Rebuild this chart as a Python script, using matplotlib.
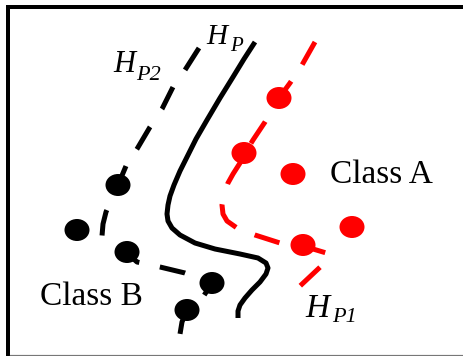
import matplotlib
matplotlib.use("Agg")
import matplotlib.pyplot as plt
from matplotlib.patches import Ellipse

plt.rcParams['lines.scale_dashes'] = False

# ---- data (image-pixel coordinates, y downward) ----
hp_x = [255, 244, 233, 220, 207, 196, 187, 180, 174, 170, 168, 167, 168, 172, 180, 195, 215, 240, 258, 266, 268, 266, 260, 252, 245, 240, 238, 238]
hp_y = [42, 59, 77, 98, 120, 139, 157, 171, 185, 196, 205, 214, 221, 228, 235, 243, 249, 254, 258, 263, 268, 274, 282, 290, 298, 305, 311, 318]

hp2_x = [199, 185, 173, 162, 150, 137, 126, 118, 111, 106, 103, 102, 105, 114, 127, 137, 160, 185, 212, 203, 187, 182, 180]
hp2_y = [48, 70, 87, 109, 127, 149, 166, 185, 200, 212, 224, 236, 244, 250, 253, 262, 267, 273, 283, 297, 310, 322, 334]

hp1_x = [315, 302, 290, 279, 265, 253, 245, 240, 233, 228, 224, 222, 223, 227, 237, 255, 280, 303, 333, 300]
hp1_y = [42, 65, 83, 98, 122, 140, 153, 163, 174, 183, 194, 205, 214, 221, 228, 235, 243, 246, 255, 286]

classA_x = [279, 244, 293, 352, 303]
classA_y = [98, 153, 174, 227, 245]
classB_x = [118, 77, 127, 212, 187]
classB_y = [185, 230, 252, 283, 310]

W, H = 463, 356
fig = plt.figure(figsize=(W / 100, H / 100), dpi=100)
ax = fig.add_axes([0, 0, 1, 1])
ax.set_xlim(0, W)
ax.set_ylim(H, 0)
ax.axis('off')

px = 0.72  # pixel -> point

# frame
ax.plot([6, W], [7, 7], color='black', lw=4 * px, solid_capstyle='butt')
ax.plot([8, 8], [5, H], color='black', lw=4 * px, solid_capstyle='butt')
ax.plot([10, W], [354.5, 354.5], color='#777777', lw=1.2 * px)

lw = 5 * px
dash_black = (0, [v * px for v in (26, 21, 24.5, 21.5, 26, 20, 26, 22, 26, 22, 27, 21, 26, 21, 22, 21, 27, 10)])
dash_red = (0, [v * px for v in (26, 20, 26, 22, 26, 20, 27, 21, 29, 20, 26, 21, 26, 26, 27, 20)])

ax.plot(hp_x, hp_y, color='black', lw=lw, solid_joinstyle='round', solid_capstyle='butt')
ax.plot(hp2_x, hp2_y, color='black', lw=lw, linestyle=dash_black, dash_capstyle='butt', dash_joinstyle='round')
ax.plot(hp1_x, hp1_y, color='#ff0000', lw=lw, linestyle=dash_red, dash_capstyle='butt', dash_joinstyle='round')

for x, y in zip(classA_x, classA_y):
    ax.add_patch(Ellipse((x, y), 25, 22, color='#ff0000', lw=0))
for x, y in zip(classB_x, classB_y):
    ax.add_patch(Ellipse((x, y), 25, 22, color='black', lw=0))

serif_it = dict(family='Liberation Serif', style='italic', va='baseline', ha='left', color='black')
ax.text(206, 44, 'H', fontsize=21, **serif_it)
ax.text(230, 51, 'P', fontsize=15, **serif_it)
ax.text(113, 72, 'H', fontsize=22, **serif_it)
ax.text(136, 80, 'P2', fontsize=16, **serif_it)
ax.text(305, 317, 'H', fontsize=24, **serif_it)
ax.text(332, 322, 'P1', fontsize=16, **serif_it)

ax.text(330, 183, 'Class A', fontsize=24, family='Liberation Serif', va='baseline', ha='left')
ax.text(40, 305, 'Class B', fontsize=24, family='Liberation Serif', va='baseline', ha='left')

fig.savefig('out.png', dpi=100)
